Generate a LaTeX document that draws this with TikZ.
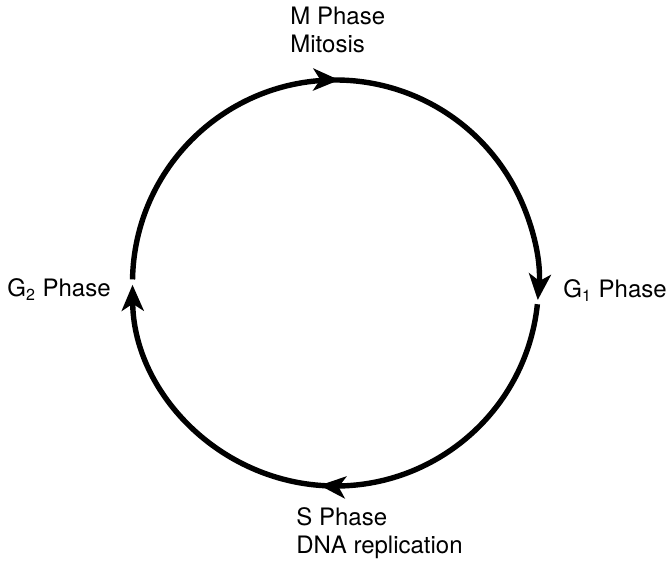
\documentclass[tikz,border=0pt]{standalone}
\usepackage{fontspec}
\setmainfont{TeX Gyre Heros}
\usetikzlibrary{arrows.meta, decorations.markings}

\begin{document}
\begin{tikzpicture}[
    x=0.5pt, y=0.5pt,
    >={Stealth[length=13pt, width=11pt, inset=3.5pt]},
    ring/.style={line width=2.7pt},
    phase/.style={inner sep=0pt, align=left, font=\fontsize{12}{14}\selectfont},
    midarrow/.style={postaction={decorate}, decoration={markings, mark=at position #1 with {\arrow{>}}}}
]
    \useasboundingbox (0,0) rectangle (668,562);

    % Points on the cycle
    \coordinate (centre) at (335.5,279);
    \coordinate (g2start) at ([shift={(179:203)}]centre);
    \coordinate (g1start) at ([shift={(-6:203)}]centre);

    % Phase labels
    \node[phase, anchor=base west] (mphase) at (290,509) {M Phase\\Mitosis};
    \node[phase, anchor=base west] (g1phase) at (563,264) {G\textsubscript{1} Phase};
    \node[phase, anchor=base west] (sphase) at (296,9) {S Phase\\DNA replication};
    \node[phase, anchor=base west] (g2phase) at (7,265) {G\textsubscript{2} Phase};

    % Cycle arcs
    \draw[ring, ->, midarrow=0.49] (g2start) arc[start angle=179, end angle=-4.8, radius=203];
    \draw[ring, ->, midarrow=0.51] (g1start) arc[start angle=-6, end angle=-179.5, radius=203];

\end{tikzpicture}
\end{document}
